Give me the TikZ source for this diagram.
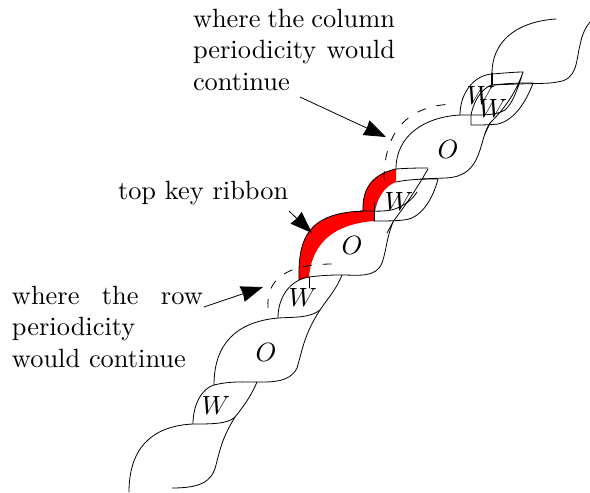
\documentclass[tikz,border=0pt]{standalone}
\usetikzlibrary{arrows.meta}
\tikzset{
  edgeline/.style={line width=0.8pt,line cap=round,line join=round},
  guide/.style={line width=0.8pt,dash pattern=on 9pt off 11pt},
  pointer/.style={line width=0.8pt,-{Stealth[length=22pt,width=16pt,inset=1pt]},shorten >=0pt},
  labeltext/.style={inner sep=0pt,outer sep=0pt,anchor=base west,scale=2.64,font=\fontsize{10}{12}\selectfont},
  cell/.style={inner sep=0pt,scale=2.64,font=\fontsize{10}{12}\selectfont}
}
\begin{document}
\begin{tikzpicture}[x=1pt,y=-1pt]
\useasboundingbox (0,0) rectangle (590,493);
% red ribbon
\path[fill=red] (299,280) .. controls (298,238) and (308,213) .. (363,211)
  .. controls (362,188) and (373,174) .. (396,169) -- (396,182)
  .. controls (385,186) and (375,198) .. (374,221)
  .. controls (335,224) and (312,242) .. (309,277) -- cycle;
\draw[edgeline] (299,280) .. controls (298,238) and (308,213) .. (363,211)
  .. controls (362,188) and (373,174) .. (396,169);
% bottom
\draw[edgeline] (129,492) .. controls (129,450) and (150,426) .. (193,424)
  .. controls (212,424) and (228,424) .. (235,417);
\draw[edgeline] (257,382) .. controls (250,398) and (243,407) .. (235,417)
  .. controls (222,438) and (220,450) .. (216,465)
  .. controls (212,482) and (200,488) .. (172,488);
\draw[edgeline] (193,424) .. controls (193,403) and (203,388) .. (214,385)
  .. controls (230,381) and (245,382) .. (257,382)
  .. controls (270,382) and (290,383) .. (297,368)
  .. controls (303,348) and (304,335) .. (320,310)
  .. controls (328,298) and (336,290) .. (342,275);
\draw[edgeline] (214,385) .. controls (214,345) and (235,322) .. (278,318)
  .. controls (295,317) and (310,318) .. (320,310);
% middle
\draw[edgeline] (278,318) .. controls (278,297) and (290,280) .. (309,277)
  .. controls (325,275) and (335,275) .. (342,275)
  .. controls (358,275) and (376,278) .. (382,263)
  .. controls (387,248) and (386,240) .. (393,222)
  .. controls (400,212) and (410,200) .. (428,169);
\draw[edgeline] (309,277) -- (309,288);
% second block
\draw[edgeline] (355,212) -- (363,211) .. controls (375,211) and (385,212) .. (395,209)
  .. controls (405,205) and (412,200) .. (417,192);
\draw[edgeline] (393,222) -- (387,233);
\draw[edgeline] (396,169) .. controls (410,168) and (420,168) .. (428,168);
\draw[edgeline] (396,182) .. controls (410,179) and (425,179) .. (438,179)
  .. controls (434,195) and (425,212) .. (412,218)
  .. controls (405,221) and (390,221) .. (374,221);
\draw[edgeline] (374,203) -- (374,221);
% O2
\draw[edgeline] (396,169) .. controls (396,135) and (425,117) .. (460,115)
  .. controls (480,115) and (495,116) .. (505,110)
  .. controls (513,103) and (518,88) .. (523,72)
  .. controls (515,95) and (503,110) .. (490,123)
  .. controls (478,140) and (484,177) .. (445,178)
  -- (420,179);
% top block
\draw[edgeline] (460,115) .. controls (460,92) and (475,75) .. (492,74)
  .. controls (505,73) and (515,72) .. (523,72);
\draw[edgeline] (471,125) -- (471,115) .. controls (475,95) and (487,85) .. (493,85)
  .. controls (510,83) and (520,83) .. (533,83)
  .. controls (527,100) and (515,120) .. (498,124)
  .. controls (490,125) and (480,125) .. (471,125);
\draw[edgeline] (490,123) -- (485,134);
\draw[edgeline] (493,85) .. controls (533,83) and (550,84) .. (557,82)
  .. controls (578,80) and (576,60) .. (580,45) .. controls (582,35) and (585,28) .. (590,22);
\draw[edgeline,line width=1.2pt] (492,73) -- (492,85);
\draw[edgeline] (492,73) .. controls (492,45) and (512,22) .. (556,19);
% dashed guides
\draw[guide] (384,180) .. controls (384,140) and (400,106) .. (453,104);
\draw[guide] (268,308) .. controls (266,280) and (285,264) .. (333,264);
% cell labels
\node[cell] (w0) at (216,405) {$W$};
\node[cell] (o1) at (266,352) {$O$};
\node[cell] (w1) at (303,297) {$W$};
\node[cell] (o2) at (352,245) {$O$};
\node[cell] (w2) at (399,201) {$W$};
\node[cell] (o3) at (448,149) {$O$};
\node[cell] (w3) at (481,95) {$W$};
\node[cell] (w4) at (493,108) {$W$};
% labels
\node[labeltext] (col1) at (193,27) {\hbox to 76.5pt{where\hfil\ the\hfil\ column}};
\node[labeltext] (col2) at (193,58) {\hbox to 76.5pt{periodicity\hfil\ would}};
\node[labeltext] (col3) at (193,90) {continue};
\node[labeltext] (key) at (118,199) {top key ribbon};
\node[labeltext] (row1) at (12,304) {\hbox to 72.3pt{where\hfil the\hfil row}};
\node[labeltext] (row2) at (12,335) {periodicity};
\node[labeltext] (row3) at (12,367) {would continue};
% arrows
\coordinate (colstart) at (300,97);
\coordinate (colend) at (386,137);
\coordinate (keystart) at (289,211);
\coordinate (keyend) at (312,233);
\coordinate (rowstart) at (204,307);
\coordinate (rowend) at (263,287);
\draw[pointer] (colstart) -- (colend);
\draw[pointer] (keystart) -- (keyend);
\draw[pointer] (rowstart) -- (rowend);
\end{tikzpicture}
\end{document}
